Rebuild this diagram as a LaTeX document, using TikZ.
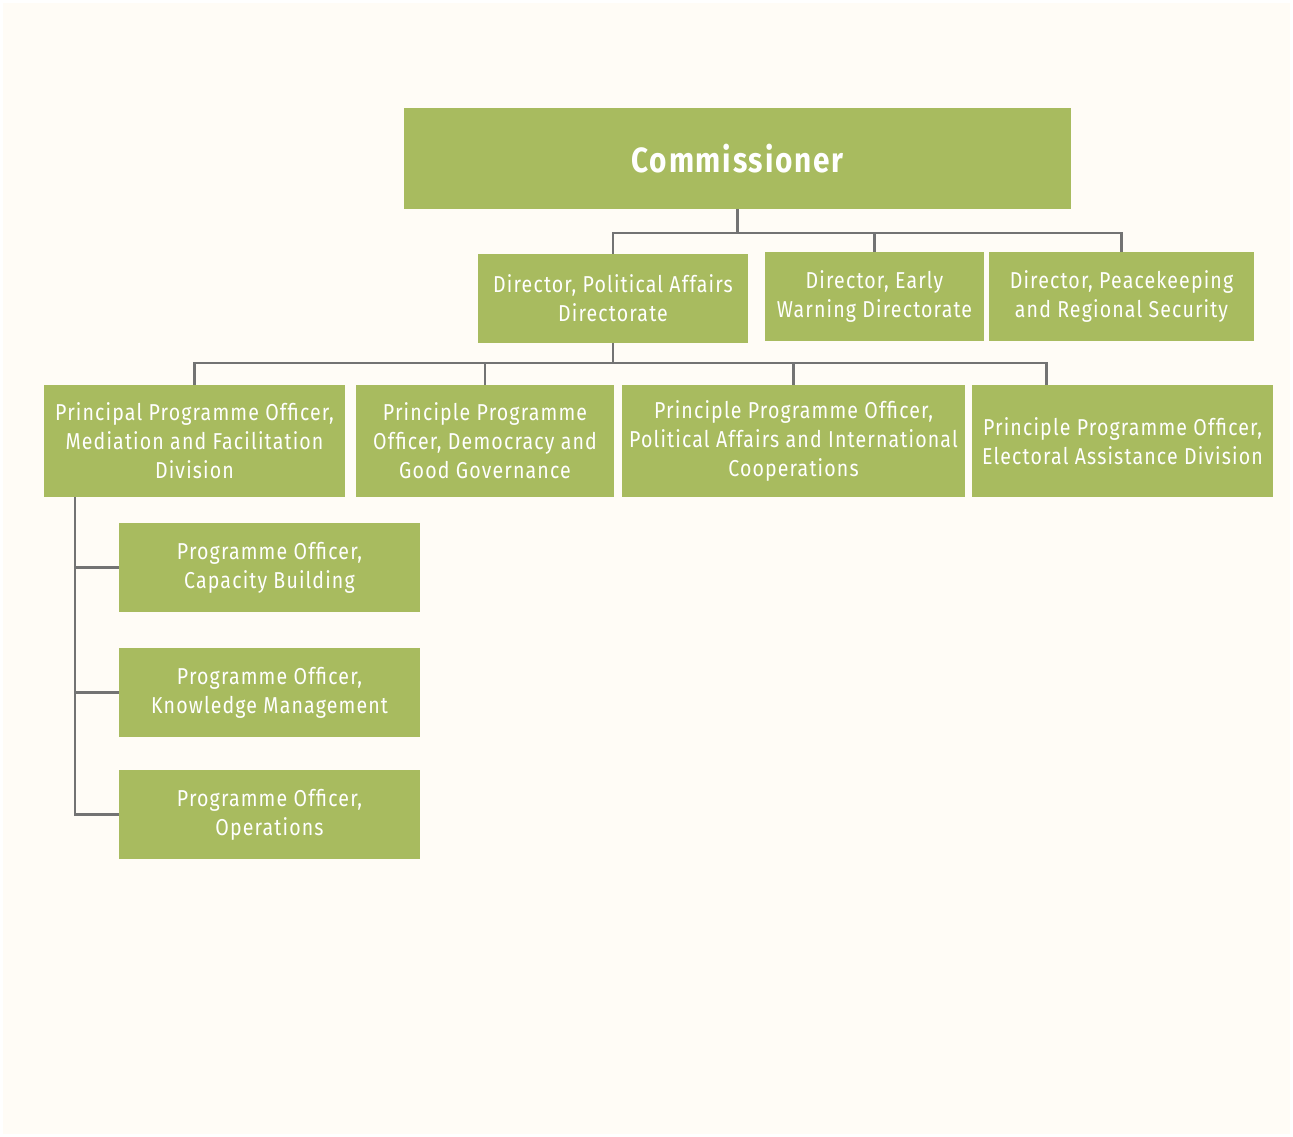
\documentclass[tikz,border=0pt]{standalone}
\usepackage{fontspec}
\setmainfont{Fira Sans}[FakeStretch=0.85, LetterSpace=5]
\definecolor{boxgreen}{HTML}{A8BB5F}
\definecolor{linegray}{HTML}{737373}
\definecolor{paper}{HTML}{FFFCF6}
\begin{document}
\begin{tikzpicture}[x=1pt, y=-1pt,
	box/.style={fill=boxgreen, text=white, align=center, inner sep=0pt, font=\fontsize{23}{29}\selectfont},
	link/.style={draw=linegray, line width=2.5pt}]
		\fill[white] (0,0) rectangle (1293,1137);
		\fill[paper] (3,3) rectangle (1290,1134);
		\node[box, minimum width=667, minimum height=101, font=\bfseries\fontsize{35}{44}\selectfont] (comm) at (737.5,158.5) {Commissioner};
		\node[box, minimum width=270, minimum height=89] (dpa) at (613,298.5) {Director, Political Affairs\\Directorate};
		\node[box, minimum width=219, minimum height=89] (dew) at (874.5,296.5) {Director, Early\\Warning Directorate};
		\node[box, minimum width=265, minimum height=89] (dpk) at (1121.5,296.5) {Director, Peacekeeping\\and Regional Security};
		\node[box, minimum width=301, minimum height=112] (ppm) at (194.5,441) {Principal Programme Officer,\\Mediation and Facilitation\\Division};
		\node[box, minimum width=258, minimum height=112] (ppd) at (485,441) {Principle Programme\\Officer, Democracy and\\Good Governance};
		\node[box, minimum width=343, minimum height=112] (ppp) at (793.5,441) {Principle Programme Officer,\\Political Affairs and International\\Cooperations};
		\node[box, minimum width=301, minimum height=112] (ppe) at (1122.5,441) {Principle Programme Officer,\\Electoral Assistance Division};
		\node[box, minimum width=301, minimum height=89] (pocap) at (269.5,567.5) {Programme Officer,\\Capacity Building};
		\node[box, minimum width=301, minimum height=89] (pokm) at (269.5,692.5) {Programme Officer,\\Knowledge Management};
		\node[box, minimum width=301, minimum height=89] (poops) at (269.5,814.5) {Programme Officer,\\Operations};
		\draw[link] (comm.south) -- ++(0,24) coordinate (bus1);
		\draw[link] (dpa.north) |- (bus1) -| (dpk.north);
		\draw[link] (dew.north) -- (dew.north |- bus1);
		\draw[link] (dpa.south) -- ++(0,20) coordinate (bus2);
		\draw[link] (ppm.north) |- (bus2) -| ([xshift=-76]ppe.north);
		\draw[link] (ppd.north) -- (ppd.north |- bus2);
		\draw[link] (ppp.north) -- (ppp.north |- bus2);
		\coordinate (trunk) at ([xshift=31]ppm.south west);
		\draw[link] (trunk) |- (poops.west);
		\draw[link] (pocap.west) -- (pocap.west -| trunk);
		\draw[link] (pokm.west) -- (pokm.west -| trunk);
	\end{tikzpicture}
\end{document}
